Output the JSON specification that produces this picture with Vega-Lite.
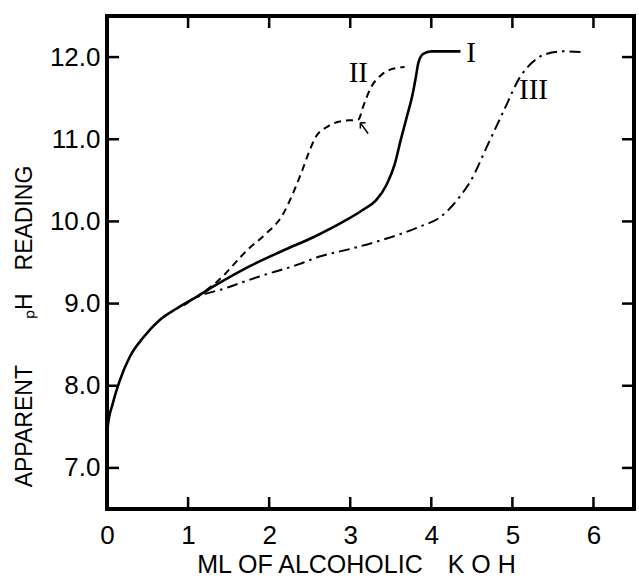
{
  "$schema": "https://vega.github.io/schema/vega-lite/v6.json",
  "width": 527,
  "height": 493,
  "autosize": {"type": "none"},
  "padding": {"left": 107, "top": 16, "right": 5, "bottom": 69},
  "background": "white",
  "config": {
    "view": {"stroke": "black", "strokeWidth": 4},
    "axis": {"grid": false, "domain": false, "ticks": false, "labelColor": "black", "titleColor": "black", "labelFont": "Liberation Sans", "titleFont": "Liberation Sans", "labelFontWeight": "normal", "titleFontWeight": "normal"}
  },
  "datasets": {
    "curves": [
      {"series": "I", "ml": 0.0, "ph": 7.25},
      {"series": "I", "ml": 0.01, "ph": 7.51},
      {"series": "I", "ml": 0.07, "ph": 7.78},
      {"series": "I", "ml": 0.16, "ph": 8.07},
      {"series": "I", "ml": 0.28, "ph": 8.35},
      {"series": "I", "ml": 0.45, "ph": 8.59},
      {"series": "I", "ml": 0.65, "ph": 8.8},
      {"series": "I", "ml": 0.86, "ph": 8.94},
      {"series": "I", "ml": 1.1, "ph": 9.08},
      {"series": "I", "ml": 1.35, "ph": 9.23},
      {"series": "I", "ml": 1.75, "ph": 9.45},
      {"series": "I", "ml": 2.16, "ph": 9.64},
      {"series": "I", "ml": 2.57, "ph": 9.82},
      {"series": "I", "ml": 2.92, "ph": 10.0},
      {"series": "I", "ml": 3.14, "ph": 10.13},
      {"series": "I", "ml": 3.32, "ph": 10.26},
      {"series": "I", "ml": 3.45, "ph": 10.45},
      {"series": "I", "ml": 3.55, "ph": 10.7},
      {"series": "I", "ml": 3.62, "ph": 10.98},
      {"series": "I", "ml": 3.7, "ph": 11.28},
      {"series": "I", "ml": 3.77, "ph": 11.55},
      {"series": "I", "ml": 3.81, "ph": 11.76},
      {"series": "I", "ml": 3.84, "ph": 11.93},
      {"series": "I", "ml": 3.9, "ph": 12.04},
      {"series": "I", "ml": 4.0, "ph": 12.07},
      {"series": "I", "ml": 4.36, "ph": 12.07},
      {"series": "II", "ml": 1.1, "ph": 9.08},
      {"series": "II", "ml": 1.35, "ph": 9.26},
      {"series": "II", "ml": 1.75, "ph": 9.67},
      {"series": "II", "ml": 1.96, "ph": 9.85},
      {"series": "II", "ml": 2.16, "ph": 10.07},
      {"series": "II", "ml": 2.28, "ph": 10.31},
      {"series": "II", "ml": 2.4, "ph": 10.6},
      {"series": "II", "ml": 2.49, "ph": 10.84},
      {"series": "II", "ml": 2.57, "ph": 11.02},
      {"series": "II", "ml": 2.73, "ph": 11.16},
      {"series": "II", "ml": 2.89, "ph": 11.22},
      {"series": "II", "ml": 3.1, "ph": 11.24},
      {"series": "II", "ml": 3.16, "ph": 11.4},
      {"series": "II", "ml": 3.25, "ph": 11.62},
      {"series": "II", "ml": 3.38, "ph": 11.78},
      {"series": "II", "ml": 3.5, "ph": 11.85},
      {"series": "II", "ml": 3.67, "ph": 11.88},
      {"series": "III", "ml": 0.95, "ph": 8.98},
      {"series": "III", "ml": 1.02, "ph": 9.03},
      {"series": "III", "ml": 1.47, "ph": 9.19},
      {"series": "III", "ml": 1.88, "ph": 9.33},
      {"series": "III", "ml": 2.37, "ph": 9.48},
      {"series": "III", "ml": 2.61, "ph": 9.57},
      {"series": "III", "ml": 2.98, "ph": 9.66},
      {"series": "III", "ml": 3.38, "ph": 9.77},
      {"series": "III", "ml": 3.84, "ph": 9.93},
      {"series": "III", "ml": 4.12, "ph": 10.06},
      {"series": "III", "ml": 4.2, "ph": 10.13},
      {"series": "III", "ml": 4.35, "ph": 10.3},
      {"series": "III", "ml": 4.49, "ph": 10.5},
      {"series": "III", "ml": 4.69, "ph": 10.92},
      {"series": "III", "ml": 4.9, "ph": 11.36},
      {"series": "III", "ml": 5.09, "ph": 11.75},
      {"series": "III", "ml": 5.24, "ph": 11.93},
      {"series": "III", "ml": 5.39, "ph": 12.03},
      {"series": "III", "ml": 5.64, "ph": 12.07},
      {"series": "III", "ml": 5.88, "ph": 12.06}
    ],
    "labels": [
      {"label": "I", "ml": 4.49, "ph": 12.05},
      {"label": "II", "ml": 3.1, "ph": 11.81},
      {"label": "III", "ml": 5.26, "ph": 11.6}
    ],
    "arrow": [
      {"ml": 3.22, "ph": 11.07, "ml2": 3.125, "ph2": 11.2},
      {"ml": 3.125, "ph": 11.13, "ml2": 3.125, "ph2": 11.2},
      {"ml": 3.19, "ph": 11.2, "ml2": 3.125, "ph2": 11.2}
    ],
    "xticks": [{"v": 1}, {"v": 2}, {"v": 3}, {"v": 4}, {"v": 5}, {"v": 6}],
    "yticks": [{"v": 7}, {"v": 8}, {"v": 9}, {"v": 10}, {"v": 11}, {"v": 12}]
  },
  "resolve": {"axis": {"x": "independent", "y": "independent"}},
  "layer": [
    {
      "data": {"name": "curves"},
      "transform": [{"filter": "datum.series === 'I'"}],
      "mark": {"type": "line", "color": "black", "strokeWidth": 2.6, "interpolate": "monotone"},
      "encoding": {
        "x": {"field": "ml", "type": "quantitative", "scale": {"domain": [0, 6.5], "nice": false, "zero": false},
          "axis": {"orient": "bottom", "values": [0, 1, 2, 3, 4, 5, 6], "format": "d", "ticks": false, "labelPadding": 13, "labelFontSize": 26, "labelFlush": false,
            "title": "ML OF ALCOHOLIC\u2003K O H", "titleFontSize": 25, "titleX": 249, "titleY": 63, "titleBaseline": "alphabetic", "titleAlign": "center", "titleAnchor": null}},
        "y": {"field": "ph", "type": "quantitative", "scale": {"domain": [6.5, 12.5], "nice": false, "zero": false},
          "axis": {"orient": "left", "values": [7, 8, 9, 10, 11, 12], "format": ".1f", "ticks": false, "labelPadding": 7, "labelFontSize": 26,
            "title": "APPARENT\u2003\u2003ₚH\u2003READING", "titleFontSize": 23, "titleFont": "Liberation Sans Narrow, Liberation Sans", "titleX": -83, "titleY": 310, "titleAngle": -90, "titleBaseline": "middle", "titleAlign": "center"}}
      }
    },
    {
      "data": {"name": "curves"},
      "transform": [{"filter": "datum.series === 'II'"}],
      "mark": {"type": "line", "color": "black", "strokeWidth": 2, "strokeDash": [7, 5], "interpolate": "monotone"},
      "encoding": {
        "x": {"field": "ml", "type": "quantitative", "axis": null},
        "y": {"field": "ph", "type": "quantitative", "axis": null}
      }
    },
    {
      "data": {"name": "curves"},
      "transform": [{"filter": "datum.series === 'III'"}],
      "mark": {"type": "line", "color": "black", "strokeWidth": 2, "strokeDash": [11, 5, 2.5, 5], "interpolate": "monotone"},
      "encoding": {
        "x": {"field": "ml", "type": "quantitative", "axis": null},
        "y": {"field": "ph", "type": "quantitative", "axis": null}
      }
    },
    {
      "data": {"name": "xticks"},
      "mark": {"type": "tick", "orient": "vertical", "color": "black", "opacity": 1, "size": 12, "thickness": 2.5, "yOffset": -6},
      "encoding": {
        "x": {"field": "v", "type": "quantitative", "axis": null},
        "y": {"datum": 6.5, "type": "quantitative", "axis": null}
      }
    },
    {
      "data": {"name": "xticks"},
      "mark": {"type": "tick", "orient": "vertical", "color": "black", "opacity": 1, "size": 12, "thickness": 2.5, "yOffset": 6},
      "encoding": {
        "x": {"field": "v", "type": "quantitative", "axis": null},
        "y": {"datum": 12.5, "type": "quantitative", "axis": null}
      }
    },
    {
      "data": {"name": "yticks"},
      "mark": {"type": "tick", "orient": "horizontal", "color": "black", "opacity": 1, "size": 12, "thickness": 2.5, "xOffset": 6},
      "encoding": {
        "y": {"field": "v", "type": "quantitative", "axis": null},
        "x": {"datum": 0, "type": "quantitative", "axis": null}
      }
    },
    {
      "data": {"name": "yticks"},
      "mark": {"type": "tick", "orient": "horizontal", "color": "black", "opacity": 1, "size": 12, "thickness": 2.5, "xOffset": -6},
      "encoding": {
        "y": {"field": "v", "type": "quantitative", "axis": null},
        "x": {"datum": 6.5, "type": "quantitative", "axis": null}
      }
    },
    {
      "data": {"name": "labels"},
      "mark": {"type": "text", "font": "Liberation Serif", "fontSize": 29, "color": "black", "align": "center", "baseline": "middle"},
      "encoding": {
        "x": {"field": "ml", "type": "quantitative", "axis": null},
        "y": {"field": "ph", "type": "quantitative", "axis": null},
        "text": {"field": "label"}
      }
    },
    {
      "data": {"name": "arrow"},
      "mark": {"type": "rule", "color": "black", "strokeWidth": 1.5},
      "encoding": {
        "x": {"field": "ml", "type": "quantitative", "axis": null},
        "y": {"field": "ph", "type": "quantitative", "axis": null},
        "x2": {"field": "ml2"},
        "y2": {"field": "ph2"}
      }
    }
  ]
}
